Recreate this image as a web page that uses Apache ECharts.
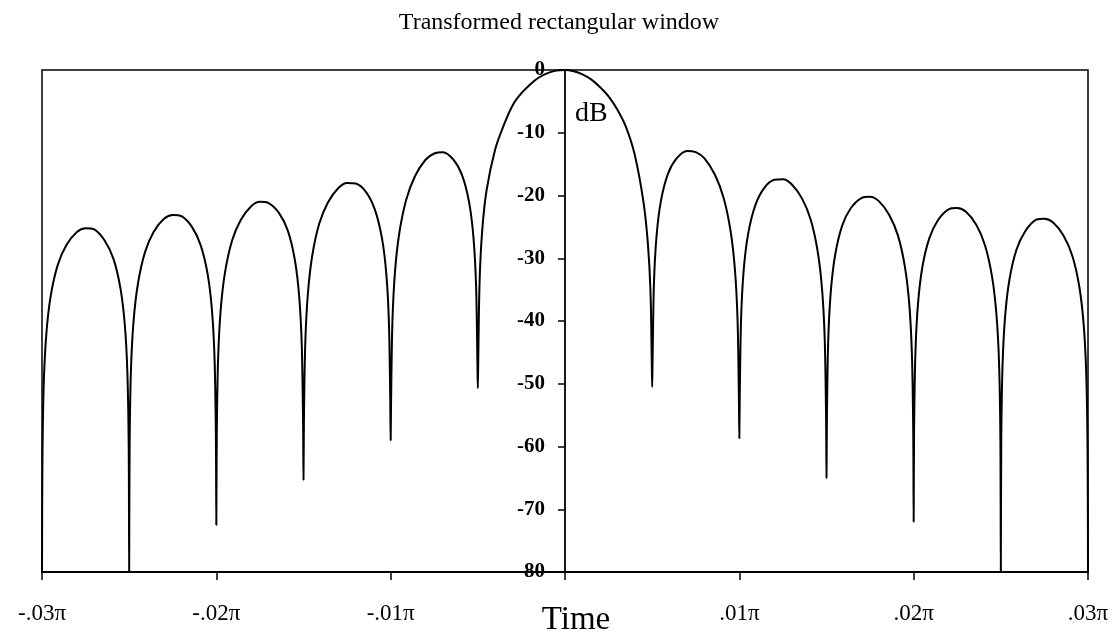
<!DOCTYPE html>
<html>
<head>
<meta charset="utf-8">
<script src="https://cdn.jsdelivr.net/npm/echarts@6/dist/echarts.min.js"></script>
<style>
  html, body { margin: 0; padding: 0; background: #fff; }
  #chart { width: 1118px; height: 639px; }
</style>
</head>
<body>
<div id="chart"></div>
<script>
// Frequencies are in units of π; levels are in dB.

// Nulls of the transform and how deep the curve dips at each one
const nullFreq  = [-0.030, -0.025, -0.020, -0.015, -0.010, -0.005, 0.005, 0.010, 0.015, 0.020, 0.025, 0.030];
const nullLevel = [-80, -80, -72.5, -65.3, -59, -50.7, -50.5, -58.7, -65, -72, -80, -80];

// Sample positions inside each side lobe (fraction of the way from one null to the next)
const lobeFrac = [0.005, 0.02, 0.05, 0.1, 0.18, 0.28, 0.4, 0.5, 0.6, 0.72, 0.82, 0.9, 0.95, 0.98, 0.995];

// Side lobes left of the main lobe, outermost first
const lobeL5 = [-62.1, -50.0, -42.0, -36.0, -31.1, -27.9, -25.8, -25.2, -25.4, -27.2, -30.1, -34.8, -40.6, -48.4, -60.5];
const lobeL4 = [-60.1, -48.0, -40.1, -34.1, -29.1, -25.8, -23.7, -23.1, -23.3, -25.0, -27.9, -32.5, -38.3, -46.2, -58.3];
const lobeL3 = [-58.3, -46.2, -38.2, -32.2, -27.2, -23.9, -21.7, -21.0, -21.2, -22.8, -25.6, -30.2, -36.0, -43.8, -55.9];
const lobeL2 = [-55.8, -43.7, -35.7, -29.6, -24.5, -21.1, -18.8, -18.0, -18.1, -19.5, -22.3, -26.8, -32.5, -40.3, -52.4];
const lobeL1 = [-52.4, -40.2, -32.1, -25.9, -20.6, -16.9, -14.3, -13.3, -13.1, -14.3, -16.8, -21.1, -26.7, -34.4, -46.4];

// Main lobe, sampled between the two nulls at ±.005π
const mainFrac = [0.0025, 0.01, 0.025, 0.05, 0.1, 0.15, 0.2, 0.25, 0.3, 0.35, 0.4, 0.45, 0.5,
                  0.55, 0.6, 0.65, 0.7, 0.75, 0.8, 0.85, 0.9, 0.95, 0.975, 0.99, 0.9975];
const mainLobe = [-46.0, -33.8, -25.6, -19.2, -12.6, -8.7, -5.6, -3.7, -2.3, -1.2, -0.5, -0.1, 0,
                  -0.2, -0.7, -1.5, -2.7, -4.2, -6.3, -9.1, -13.5, -21.0, -27.5, -35.0, -46.0];

// Side lobes right of the main lobe, innermost first
const lobeR1 = [-46.2, -34.2, -26.5, -20.9, -16.6, -14.1, -12.9, -13.1, -14.1, -16.7, -20.4, -25.7, -31.9, -40.0, -52.2];
const lobeR2 = [-51.8, -39.7, -31.9, -26.2, -21.7, -18.9, -17.5, -17.4, -18.2, -20.5, -23.9, -29.0, -35.1, -43.1, -55.2];
const lobeR3 = [-55.1, -43.0, -35.2, -29.4, -24.8, -22.0, -20.4, -20.2, -20.9, -23.1, -26.4, -31.4, -37.4, -45.4, -57.5];
const lobeR4 = [-57.2, -45.1, -37.2, -31.4, -26.8, -23.9, -22.2, -22.0, -22.6, -24.7, -28.0, -33.0, -39.0, -46.9, -59.0];
const lobeR5 = [-59.0, -46.9, -39.1, -33.3, -28.6, -25.7, -23.9, -23.7, -24.3, -26.4, -29.6, -34.5, -40.5, -48.5, -60.6];

// Tick labels of the frequency axis (the centre tick carries no label)
const xTickValues = [-3, -2, -1, 0, 1, 2, 3];
const xTickLabels = ['-.03π', '-.02π', '-.01π', '', '.01π', '.02π', '.03π'];

// Lobes in order from left to right, each spanning nullFreq[i]..nullFreq[i+1]
const lobes = [
  [lobeFrac, lobeL5], [lobeFrac, lobeL4], [lobeFrac, lobeL3], [lobeFrac, lobeL2], [lobeFrac, lobeL1],
  [mainFrac, mainLobe],
  [lobeFrac, lobeR1], [lobeFrac, lobeR2], [lobeFrac, lobeR3], [lobeFrac, lobeR4], [lobeFrac, lobeR5]
];

const curve = [];
for (let i = 0; i < lobes.length; i++) {
  const a = nullFreq[i], b = nullFreq[i + 1];
  curve.push([a, nullLevel[i]]);
  const [fr, lv] = lobes[i];
  for (let j = 0; j < fr.length; j++) curve.push([a + fr[j] * (b - a), lv[j]]);
}
curve.push([nullFreq[nullFreq.length - 1], nullLevel[nullLevel.length - 1]]);

const serif = '"Liberation Serif", "DejaVu Serif", serif';

const chart = echarts.init(document.getElementById('chart'), null, { renderer: 'canvas' });
chart.setOption({
  animation: false,
  backgroundColor: '#fff',
  title: {
    text: 'Transformed rectangular window',
    left: 'center',
    top: 6,
    textStyle: { fontFamily: serif, fontSize: 24, fontWeight: 'normal', color: '#000' }
  },
  grid: {
    left: 42, right: 30, top: 70, bottom: 67,
    outerBoundsMode: 'none',
    containLabel: false,
    show: true, borderColor: '#000', borderWidth: 1.5, backgroundColor: 'transparent'
  },
  xAxis: {
    type: 'value',
    min: -0.03, max: 0.03, interval: 0.01,
    name: 'Time',
    nameLocation: 'middle',
    nameGap: 32,
    nameMoveOverlap: false,
    nameTextStyle: { fontFamily: serif, fontSize: 33, color: '#000', padding: [0, 0, 0, 22] },
    axisLine: { onZero: false, lineStyle: { color: '#000', width: 1.8 } },
    axisTick: { show: true, length: 8, lineStyle: { color: '#000', width: 1.5 } },
    axisLabel: {
      margin: 30,
      fontFamily: serif, fontSize: 23, color: '#000',
      formatter: v => {
        const k = xTickValues.indexOf(Math.round(v * 100));
        return k >= 0 ? xTickLabels[k] : '';
      }
    },
    splitLine: { show: false }
  },
  yAxis: {
    type: 'value',
    position: 'left',
    min: -80, max: 0, interval: 10,
    name: 'dB',
    nameLocation: 'end',
    nameGap: -44,
    nameMoveOverlap: false,
    nameTextStyle: { fontFamily: serif, fontSize: 28, color: '#000', align: 'left', verticalAlign: 'middle', padding: [0, 0, 0, 10] },
    axisLine: { onZero: false, lineStyle: { color: '#000', width: 1.8 } },
    axisTick: { show: true, length: 7, lineStyle: { color: '#000', width: 1.5 } },
    axisLabel: { margin: 20, fontFamily: serif, fontSize: 21, fontWeight: 'bold', color: '#000' },
    splitLine: { show: false }
  },
  series: [{
    type: 'line',
    data: curve,
    showSymbol: false,
    smooth: 0.3,
    lineStyle: { color: '#000', width: 2 },
    clip: true
  }]
});

// Move the level axis from the left edge of the plot to the zero frequency line
const xLeft = chart.convertToPixel({ xAxisIndex: 0 }, nullFreq[0]);
const xZero = chart.convertToPixel({ xAxisIndex: 0 }, 0);
chart.setOption({ yAxis: { offset: -(xZero - xLeft) } });
</script>
</body>
</html>
